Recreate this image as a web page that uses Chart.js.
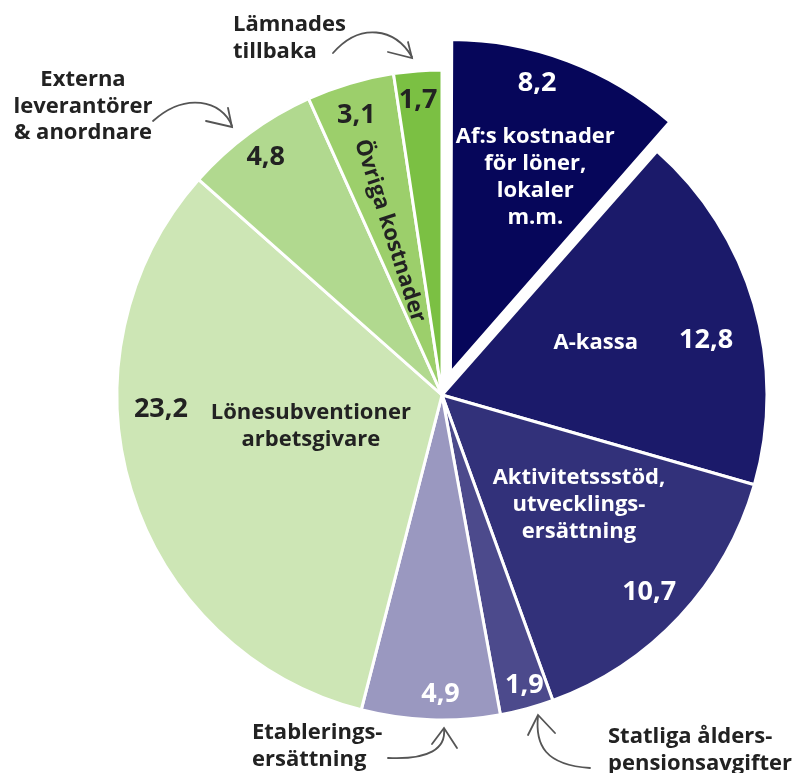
<!DOCTYPE html>
<html>
<head>
<meta charset="utf-8">
<script src="https://cdn.jsdelivr.net/npm/chart.js@4/dist/chart.umd.min.js"></script>
<style>
  html, body { margin: 0; padding: 0; background: #fff; }
  #wrap { width: 795px; height: 773px; position: relative; }
</style>
</head>
<body>
<div id="wrap"><canvas id="myChart"></canvas></div>
<script>
// data, clockwise from 12 o'clock (miljarder kr)
const categories = [
  "Af:s kostnader för löner, lokaler m.m.",
  "A-kassa",
  "Aktivitetsstöd, utvecklingsersättning",
  "Statliga ålderspensionsavgifter",
  "Etableringsersättning",
  "Lönesubventioner arbetsgivare",
  "Externa leverantörer & anordnare",
  "Övriga kostnader",
  "Lämnades tillbaka"
];
const values = [8.2, 12.8, 10.7, 1.9, 4.9, 23.2, 4.8, 3.1, 1.7];
const colors = ["#06065a", "#1b1a6a", "#32317a", "#4c4a8c", "#9a98c0", "#cde6b5", "#b1d98f", "#9ccf6b", "#7bc043"];

// labels drawn inside the slices
const innerNames = [
  "Af:s kostnader\nför löner,\nlokaler\nm.m.",
  "A-kassa",
  "Aktivitetssstöd,\nutvecklings-\nersättning",
  "", "",
  "Lönesubventioner\narbetsgivare",
  "",
  "Övriga kostnader",
  ""
];
// where inside each slice: [share of the angle, share of the radius]
const valuePlace = [[0.40, 0.905], [0.57, 0.83], [0.51, 0.88], [0.43, 0.93], [0.43, 0.92], [0.62, 0.866], [0.49, 0.91], [0.46, 0.90], [0.46, 0.91]];
const namePlace = [[0.57, 0.63], [0.46, 0.50], [0.42, 0.54], null, null, [0.53, 0.415], null, [0.42, 0.53], null];
const darkText = [false, false, false, false, false, true, true, true, true];
const shiftPx = [32, 0, 0, 0, 0, 0, 0, 0, 0];

// Chart.js moves an offset arc by offset/4 * (2 - sin(angle)), so turn pixels into the option value
const total = values.reduce((a, b) => a + b, 0);
const offsetOption = shiftPx.map((s, i) => {
  const circ = values[i] / total * Math.PI * 2;
  const fix = 1 - Math.sin(Math.min(Math.PI, circ));
  return s * 4 / (1 + fix);
});

const FONT = "'Open Sans', sans-serif";

const sliceLabels = {
  id: "sliceLabels",
  afterDatasetsDraw(chart) {
    const ctx = chart.ctx;
    const arcs = chart.getDatasetMeta(0).data;
    ctx.save();
    ctx.textAlign = "center";
    ctx.textBaseline = "middle";
    arcs.forEach((arc, i) => {
      const p = arc.getProps(["x", "y", "startAngle", "endAngle", "outerRadius"], true);
      const mid = (p.startAngle + p.endAngle) / 2;
      const cx = p.x + Math.cos(mid) * shiftPx[i];
      const cy = p.y + Math.sin(mid) * shiftPx[i];
      const at = (pl) => {
        const a = p.startAngle + pl[0] * (p.endAngle - p.startAngle);
        return { a: a, x: cx + Math.cos(a) * pl[1] * p.outerRadius, y: cy + Math.sin(a) * pl[1] * p.outerRadius };
      };
      ctx.fillStyle = darkText[i] ? "#222222" : "#ffffff";

      // value
      const v = at(valuePlace[i]);
      ctx.font = "bold 27px " + FONT;
      ctx.fillText(values[i].toFixed(1).replace(".", ","), v.x, v.y);

      // name
      if (namePlace[i]) {
        const n = at(namePlace[i]);
        const lines = innerNames[i].split("\n");
        ctx.font = "bold 22px " + FONT;
        ctx.save();
        ctx.translate(n.x, n.y);
        if (i === 7) ctx.rotate(n.a + Math.PI);
        const lh = 27;
        lines.forEach((t, k) => {
          ctx.fillText(t, 0, (k - (lines.length - 1) / 2) * lh);
        });
        ctx.restore();
      }
    });
    ctx.restore();
  }
};

// outside notes with curved arrows
const notes = [
  { text: ["Lämnades", "tillbaka"], x: 233, y: 25, align: "left",
    path: [[333, 53], [360, 22], [395, 28], [412, 57]], head: [[412, 58], [388, 52], [408, 42]] },
  { text: ["Externa", "leverantörer", "& anordnare"], x: 83, y: 80, align: "center",
    path: [[153, 121], [185, 92], [222, 100], [232, 126]], head: [[232, 127], [206, 121], [228, 108]] },
  { text: ["Etablerings-", "ersättning"], x: 252, y: 733, align: "left",
    path: [[388, 758], [430, 760], [446, 748], [444, 729]], head: [[444, 728], [432, 744], [457, 748]] },
  { text: ["Statliga ålders-", "pensionsavgifter"], x: 608, y: 737, align: "left",
    path: [[590, 768], [545, 765], [535, 745], [538, 716]], head: [[538, 715], [528, 735], [555, 733]] }
];

const outsideNotes = {
  id: "outsideNotes",
  afterDraw(chart) {
    const ctx = chart.ctx;
    ctx.save();
    ctx.fillStyle = "#222222";
    ctx.font = "bold 22px " + FONT;
    ctx.textBaseline = "middle";
    notes.forEach((n) => {
      ctx.textAlign = n.align;
      n.text.forEach((t, k) => ctx.fillText(t, n.x, n.y + k * 26.5));
      ctx.strokeStyle = "#555555";
      ctx.lineWidth = 1.8;
      ctx.lineCap = "round";
      ctx.beginPath();
      ctx.moveTo(n.path[0][0], n.path[0][1]);
      ctx.bezierCurveTo(n.path[1][0], n.path[1][1], n.path[2][0], n.path[2][1], n.path[3][0], n.path[3][1]);
      ctx.stroke();
      ctx.beginPath();
      ctx.moveTo(n.head[1][0], n.head[1][1]);
      ctx.lineTo(n.head[0][0], n.head[0][1]);
      ctx.lineTo(n.head[2][0], n.head[2][1]);
      ctx.stroke();
    });
    ctx.restore();
  }
};

const ctx = document.getElementById("myChart").getContext("2d");
const myChart = new Chart(ctx, {
  type: "pie",
  data: {
    labels: categories,
    datasets: [{
      data: values,
      backgroundColor: colors,
      borderColor: "#ffffff",
      borderWidth: 3,
      offset: offsetOption,
      radius: 325
    }]
  },
  options: {
    responsive: true,
    maintainAspectRatio: false,
    animation: false,
    layout: { padding: { left: 89, top: 17, right: 0, bottom: 0 } },
    plugins: {
      legend: { display: false },
      tooltip: { enabled: false }
    }
  },
  plugins: [sliceLabels, outsideNotes]
});
</script>
</body>
</html>
